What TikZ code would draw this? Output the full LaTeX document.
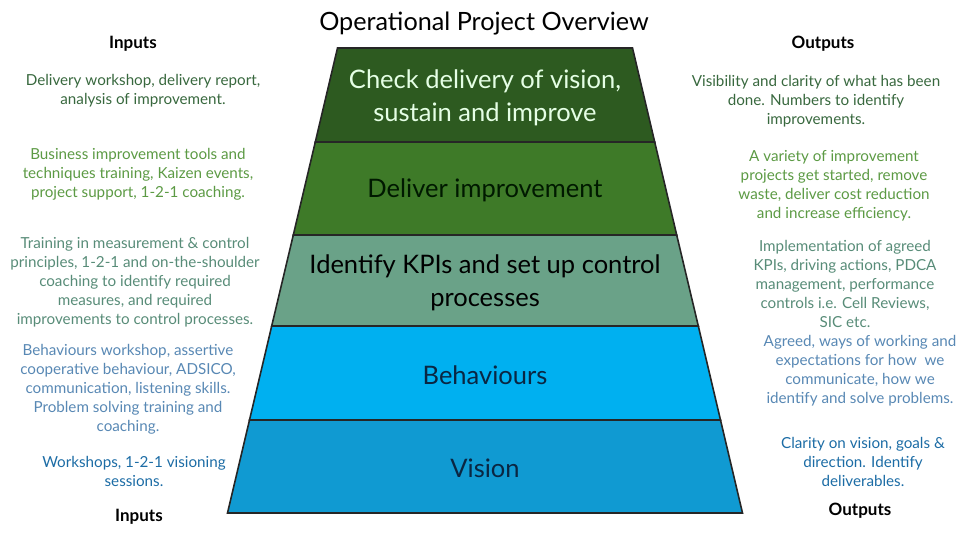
\documentclass[tikz,border=0pt]{standalone}
\usepackage{fontspec}
\setmainfont{Lato}
\usepackage{xcolor}
\usetikzlibrary{positioning}

\definecolor{layA}{RGB}{45,90,32}
\definecolor{layB}{RGB}{62,122,40}
\definecolor{layC}{RGB}{106,162,136}
\definecolor{layD}{RGB}{0,176,240}
\definecolor{layE}{RGB}{16,154,210}
\definecolor{txtA}{RGB}{56,104,62}
\definecolor{txtB}{RGB}{92,154,68}
\definecolor{txtC}{RGB}{88,140,120}
\definecolor{txtD}{RGB}{88,136,180}
\definecolor{txtE}{RGB}{28,108,165}
\definecolor{navy}{RGB}{10,38,66}

\begin{document}
\begin{tikzpicture}[
  x=1pt, y=-1pt,
  layer/.style={draw=black!85, line width=1.6pt, line join=miter},
  laytext/.style={align=center, font=\fontsize{25.5}{33}\selectfont},
  side/.style={align=center, font=\fontsize{15.2}{19}\selectfont},
  head/.style={font=\fontsize{17}{20}\selectfont\bfseries}
]
\useasboundingbox (0,0) rectangle (960,540);

% pyramid layers
\filldraw[layer, fill=layA] (337.5,48) -- (632.5,48) -- (654.7,142) -- (315.3,142) -- cycle;
\filldraw[layer, fill=layB] (315.3,142) -- (654.7,142) -- (676.7,235) -- (293.3,235) -- cycle;
\filldraw[layer, fill=layC] (293.3,235) -- (676.7,235) -- (698.3,326) -- (271.7,326) -- cycle;
\filldraw[layer, fill=layD] (271.7,326) -- (698.3,326) -- (720.5,420) -- (249.5,420) -- cycle;
\filldraw[layer, fill=layE] (249.5,420) -- (720.5,420) -- (742.5,513) -- (227.5,513) -- cycle;

\node[font=\fontsize{25.2}{30}\selectfont] (title) at (484,24) {Operational Project Overview};

\node[laytext, text=green!10!white] (lay1) at (485,98) {Check delivery of vision,\\sustain and improve};
\node[laytext, text=black!90!green] (lay2) at (485,190) {Deliver improvement};
\node[laytext, text=black] (lay3) at (485,283) {Identify KPIs and set up control\\processes};
\node[laytext, text=navy] (lay4) at (485,375) {Behaviours};
\node[laytext, text=navy] (lay5) at (485,468) {Vision};

% inputs
\node[head] (inhead) at (133,44) {Inputs};
\node[side, text=txtA] (in1) at (143,91) {Delivery workshop, delivery report,\\analysis of improvement.};
\node[side, text=txtB] (in2) at (138,174) {Business improvement tools and\\techniques training, Kaizen events,\\project support, 1-2-1 coaching.};
\node[side, text=txtC] (in3) at (135,282) {Training in measurement \& control\\principles, 1-2-1 and on-the-shoulder\\coaching to identify required\\measures, and required\\improvements to control processes.};
\node[side, text=txtD] (in4) at (128,389) {Behaviours workshop, assertive\\cooperative behaviour, ADSICO,\\communication, listening skills.\\Problem solving training and\\coaching.};
\node[side, text=txtE] (in5) at (134,471) {Workshops, 1-2-1 visioning\\sessions.};
\node[head] (infoot) at (139,517) {Inputs};

% outputs
\node[head] (outhead) at (823,44) {Outputs};
\node[side, text=txtA] (out1) at (816,101) {Visibility and clarity of what has been\\done. Numbers to identify\\improvements.};
\node[side, text=txtB] (out2) at (834,186) {A variety of improvement\\projects get started, remove\\waste, deliver cost reduction\\and increase efficiency.};
\node[side, text=txtC] (out3) at (845,284) {Implementation of agreed\\KPIs, driving actions, PDCA\\management, performance\\controls i.e. Cell Reviews,\\SIC etc.};
\node[side, text=txtD] (out4) at (860,371) {Agreed, ways of working and\\expectations for how\ \ we\\communicate, how we\\identify and solve problems.};
\node[side, text=txtE] (out5) at (863,462) {Clarity on vision, goals \&\\direction. Identify\\deliverables.};
\node[head] (outfoot) at (860,511) {Outputs};

\end{tikzpicture}
\end{document}
